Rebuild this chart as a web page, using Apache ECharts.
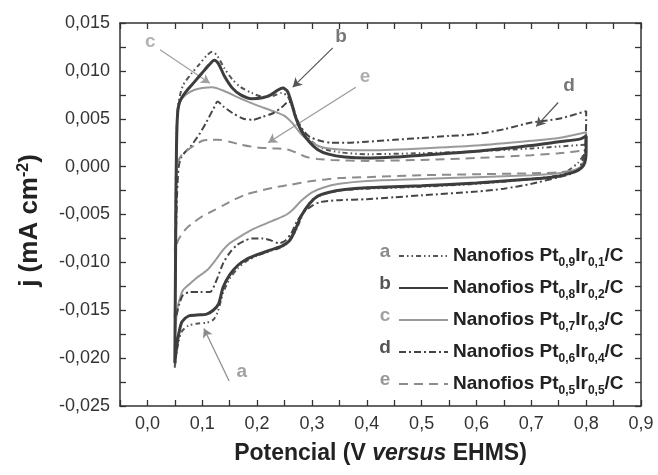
<!DOCTYPE html>
<html>
<head>
<meta charset="utf-8">
<script src="https://cdn.jsdelivr.net/npm/echarts@6/dist/echarts.min.js"></script>
<style>
html,body{margin:0;padding:0;background:#fff;}
#chart{width:658px;height:475px;}
</style>
</head>
<body>
<div id="chart"></div>
<script>
// ---- data (x: potential / V, y: j / mA cm-2), closed CV loops: anodic then cathodic ----
const curveA = [
  [0.05,-0.021],[0.051,-0.010],[0.052,0.0],[0.054,0.005],[0.057,0.0068],[0.065,0.0085],[0.08,0.0097],[0.095,0.0107],
  [0.108,0.0116],[0.118,0.0120],[0.127,0.0116],[0.14,0.0103],[0.155,0.0091],[0.17,0.0083],[0.19,0.0077],[0.21,0.0073],
  [0.23,0.0074],[0.245,0.0077],[0.255,0.0074],[0.263,0.0064],[0.272,0.0049],[0.285,0.0035],[0.3,0.0026],[0.32,0.0019],
  [0.35,0.0015],[0.4,0.0013],[0.5,0.0014],[0.6,0.0016],[0.7,0.0019],[0.75,0.0021],[0.8,0.0023],
  [0.8,0.0020],[0.795,0.0012],[0.785,0.0004],[0.77,-0.0003],[0.75,-0.0009],[0.7,-0.0013],[0.6,-0.0018],[0.5,-0.0021],
  [0.4,-0.0023],[0.35,-0.0025],[0.32,-0.0029],[0.3,-0.0035],[0.285,-0.0048],[0.272,-0.0065],[0.26,-0.0077],[0.245,-0.0084],
  [0.225,-0.0088],[0.2,-0.0093],[0.18,-0.0099],[0.165,-0.0106],[0.15,-0.0117],[0.138,-0.0132],[0.128,-0.0152],[0.12,-0.0160],
  [0.108,-0.0163],[0.09,-0.0164],[0.075,-0.0166],[0.063,-0.0172],[0.057,-0.0182],[0.053,-0.0195],[0.05,-0.021]
];
const curveB = [
  [0.05,-0.0205],[0.051,-0.012],[0.052,-0.004],[0.053,0.002],[0.055,0.0055],[0.059,0.0068],[0.07,0.0078],[0.085,0.0088],
  [0.1,0.0098],[0.112,0.0106],[0.122,0.0111],[0.13,0.0107],[0.14,0.0095],[0.155,0.0082],[0.17,0.0075],[0.19,0.0071],
  [0.21,0.0072],[0.225,0.0075],[0.238,0.0080],[0.247,0.0082],[0.255,0.0079],[0.262,0.0068],[0.27,0.0052],[0.28,0.0038],
  [0.295,0.0026],[0.31,0.0018],[0.33,0.0013],[0.36,0.0010],[0.4,0.0009],[0.45,0.0010],[0.5,0.0012],[0.55,0.0014],
  [0.6,0.0016],[0.65,0.0019],[0.7,0.0022],[0.75,0.0026],[0.79,0.0029],[0.8,0.0032],
  [0.8,0.0022],[0.799,0.0008],[0.795,0.0001],[0.785,-0.0004],[0.77,-0.0007],[0.75,-0.0010],[0.7,-0.0013],[0.6,-0.0017],
  [0.5,-0.0020],[0.45,-0.0021],[0.4,-0.0022],[0.36,-0.0024],[0.33,-0.0027],[0.31,-0.0031],[0.295,-0.0039],[0.28,-0.0052],
  [0.268,-0.0068],[0.258,-0.0078],[0.245,-0.0083],[0.225,-0.0087],[0.2,-0.0092],[0.18,-0.0097],[0.165,-0.0103],[0.15,-0.0113],
  [0.138,-0.0126],[0.13,-0.0143],[0.12,-0.0150],[0.108,-0.0154],[0.09,-0.0155],[0.075,-0.0156],[0.063,-0.0162],[0.057,-0.0175],
  [0.053,-0.0190],[0.05,-0.0205]
];
const curveC = [
  [0.05,-0.0175],[0.051,-0.010],[0.052,-0.002],[0.053,0.003],[0.055,0.0058],[0.06,0.0068],[0.07,0.0075],[0.085,0.0080],
  [0.1,0.0082],[0.118,0.0083],[0.14,0.0079],[0.17,0.0071],[0.2,0.0064],[0.229,0.0058],[0.25,0.0053],[0.265,0.0045],
  [0.28,0.0034],[0.3,0.0025],[0.32,0.0020],[0.35,0.0018],[0.4,0.0017],[0.5,0.0019],[0.6,0.0022],[0.7,0.0027],[0.75,0.0030],[0.8,0.0036],
  [0.8,0.0024],[0.797,0.0008],[0.79,0.0000],[0.775,-0.0004],[0.75,-0.0007],[0.7,-0.0009],[0.6,-0.0011],[0.5,-0.0013],
  [0.4,-0.0015],[0.35,-0.0018],[0.32,-0.0022],[0.3,-0.0027],[0.28,-0.0036],[0.265,-0.0045],[0.254,-0.0050],[0.235,-0.0055],
  [0.218,-0.0059],[0.19,-0.0066],[0.169,-0.0073],[0.15,-0.0080],[0.138,-0.0087],[0.125,-0.0097],[0.109,-0.0108],[0.09,-0.0116],
  [0.078,-0.0122],[0.065,-0.0129],[0.058,-0.0140],[0.054,-0.0150],[0.052,-0.0163],[0.05,-0.0175]
];
const curveD = [
  [0.05,-0.0158],[0.051,-0.011],[0.052,-0.007],[0.054,-0.003],[0.057,0.0],[0.062,0.0010],[0.07,0.0016],[0.08,0.0022],
  [0.096,0.0035],[0.108,0.0047],[0.12,0.0060],[0.128,0.0068],[0.138,0.0063],[0.155,0.0056],[0.175,0.0050],[0.193,0.0049],
  [0.21,0.0052],[0.23,0.0056],[0.245,0.0062],[0.258,0.0068],[0.265,0.0063],[0.273,0.0049],[0.285,0.0037],[0.296,0.0031],
  [0.315,0.0027],[0.335,0.0025],[0.37,0.0025],[0.4,0.0026],[0.45,0.0028],[0.5,0.0030],[0.55,0.0032],[0.6,0.0034],
  [0.65,0.0039],[0.7,0.0046],[0.75,0.0050],[0.8,0.0058],
  [0.8,0.0048],[0.798,0.0020],[0.793,0.0005],[0.785,-0.0003],[0.77,-0.0008],[0.75,-0.0011],[0.7,-0.0018],[0.65,-0.0023],
  [0.6,-0.0026],[0.5,-0.0030],[0.45,-0.0032],[0.4,-0.0034],[0.35,-0.0035],[0.315,-0.0037],[0.3,-0.0041],[0.284,-0.0048],
  [0.272,-0.0058],[0.262,-0.0070],[0.25,-0.0078],[0.24,-0.0080],[0.225,-0.0077],[0.21,-0.0075],[0.19,-0.0075],[0.175,-0.0078],
  [0.163,-0.0082],[0.15,-0.0090],[0.138,-0.0101],[0.125,-0.0120],[0.114,-0.0131],[0.096,-0.0131],[0.078,-0.0131],[0.065,-0.0134],
  [0.058,-0.0144],[0.053,-0.0155],[0.05,-0.0158]
];
const curveE = [
  [0.05,-0.009],[0.051,-0.005],[0.052,-0.002],[0.054,0.0],[0.058,0.0008],[0.065,0.0014],[0.075,0.0018],[0.085,0.0022],
  [0.1,0.0027],[0.115,0.0028],[0.13,0.0028],[0.15,0.0026],[0.17,0.0023],[0.2,0.0020],[0.23,0.0019],[0.255,0.0018],
  [0.27,0.0015],[0.29,0.0010],[0.31,0.0008],[0.335,0.0007],[0.4,0.0006],[0.5,0.0007],[0.6,0.0009],[0.7,0.0012],[0.75,0.0014],[0.8,0.0017],
  [0.8,0.0012],[0.797,0.0004],[0.79,-0.0001],[0.775,-0.0004],[0.75,-0.0006],[0.7,-0.0007],[0.6,-0.0008],[0.5,-0.0009],
  [0.4,-0.0011],[0.35,-0.0012],[0.3,-0.0015],[0.26,-0.0019],[0.229,-0.0022],[0.2,-0.0026],[0.18,-0.0029],[0.16,-0.0034],
  [0.14,-0.0040],[0.12,-0.0046],[0.1,-0.0052],[0.085,-0.0058],[0.072,-0.0064],[0.062,-0.0071],[0.056,-0.0077],[0.052,-0.0084],[0.05,-0.009]
];
const curveLetters = ['a','b','c','d','e'];
const ptSub = ['0,9','0,8','0,7','0,6','0,5'];
const irSub = ['0,1','0,2','0,3','0,4','0,5'];

// annotation letters with arrows (data coordinates)
const annLetters = ['c','b','e','d','a'];
const annTextPos = [[0.005,0.0130],[0.353,0.0136],[0.397,0.0094],[0.769,0.0084],[0.172,-0.0214]];
const annArrowFrom = [[0.023,0.0122],[0.338,0.0124],[0.380,0.0083],[0.749,0.0067],[0.149,-0.0224]];
const annArrowTo = [[0.114,0.0087],[0.265,0.0083],[0.220,0.0025],[0.709,0.0042],[0.103,-0.0169]];

// ---- styles ----
const FONT = 'Liberation Sans, Arial, Helvetica, sans-serif';
const letterColor = {a:'#8a8a8a', b:'#555555', c:'#a0a0a0', d:'#555555', e:'#999999'};
const curveStyles = [
  {color:'#555555', width:2, type:[5,3,1.5,3,1.5,3]},
  {color:'#3d3d3d', width:3, type:'solid'},
  {color:'#9a9a9a', width:2, type:'solid'},
  {color:'#454545', width:2, type:[7,3,2,3]},
  {color:'#8c8c8c', width:2, type:[9,6]}
];
const curves = [curveA, curveB, curveC, curveD, curveE];
const names = curveLetters.map((l,i)=>'Nanofios Pt' + ptSub[i] + 'Ir' + irSub[i] + '/C');

const chart = echarts.init(document.getElementById('chart'));

const series = curves.map((c,i)=>({
  name: names[i],
  type: 'line',
  data: c,
  symbol: 'none',
  smooth: 0.25,
  lineStyle: curveStyles[i],
  itemStyle: {color: curveStyles[i].color},
  animation: false,
  xAxisIndex: 0, yAxisIndex: 0,
  z: i === 1 ? 5 : 3
}));

series.push({
  name: 'annotations',
  type: 'scatter',
  symbol: 'circle',
  symbolSize: 1,
  itemStyle: {color: 'rgba(0,0,0,0)'},
  animation: false,
  silent: true,
  data: annTextPos.map((p,i)=>({
    value: p, name: annLetters[i],
    label: {show:true, position:'inside', formatter:'{b}', color: letterColor[annLetters[i]],
            fontFamily: FONT, fontWeight:'bold', fontSize: 19}
  })),
  markLine: {
    silent: true,
    animation: false,
    symbol: ['none','arrow'],
    symbolSize: [8,9],
    label: {show:false},
    data: annArrowFrom.map((p,i)=>[
      {coord: p, lineStyle:{color: letterColor[annLetters[i]], width:1.2, type:'solid'}},
      {coord: annArrowTo[i]}
    ])
  }
});

const xFmt = v => { const k = Math.round(v*100); return (k % 10 === 0) ? (k/100).toFixed(1).replace('.', ',') : ''; };
const yFmt = v => { const k = Math.round(v*10000); return (k % 50 === 0) ? (k/10000).toFixed(3).replace('.', ',') : ''; };

const axisCommon = {
  axisLine: {show:true, onZero:false, lineStyle:{color:'#333', width:1.5}},
  axisTick: {show:true, inside:true, length:6, lineStyle:{color:'#333', width:1.3}},
  splitLine: {show:false}
};

chart.setOption({
  animation: false,
  backgroundColor: '#fff',
  grid: {left:120, right:17, top:23, bottom:69},
  xAxis: [
    Object.assign({
      type:'value', min:-0.05, max:0.9, interval:0.05, position:'bottom',
      axisLabel:{formatter:xFmt, color:'#333', fontFamily:FONT, fontSize:18, margin:9},
      name:'{b|Potencial (V }{i|versus}{b| EHMS)}',
      nameLocation:'middle', nameGap:36,
      nameTextStyle:{rich:{
        b:{fontFamily:FONT, fontWeight:'bold', fontSize:23, color:'#222'},
        i:{fontFamily:FONT, fontWeight:'bold', fontStyle:'italic', fontSize:23, color:'#222'}
      }}
    }, axisCommon),
    Object.assign({
      type:'value', min:-0.05, max:0.9, interval:0.05, position:'top',
      axisLabel:{show:false}
    }, axisCommon)
  ],
  yAxis: [
    Object.assign({
      type:'value', min:-0.025, max:0.015, interval:0.0025, position:'left',
      axisLabel:{formatter:yFmt, color:'#333', fontFamily:FONT, fontSize:18, margin:10},
      name:'{b|j (mA cm}{s|-2}{b|)}',
      nameLocation:'middle', nameGap:76, nameRotate:90,
      nameTextStyle:{padding:[0,12,0,0], rich:{
        b:{fontFamily:FONT, fontWeight:'bold', fontSize:26, color:'#222', lineHeight:28},
        s:{fontFamily:FONT, fontWeight:'bold', fontSize:16, color:'#222', lineHeight:16, padding:[0,0,12,0]}
      }}
    }, axisCommon),
    Object.assign({
      type:'value', min:-0.025, max:0.015, interval:0.0025, position:'right',
      axisLabel:{show:false}
    }, axisCommon)
  ],
  legend: {
    data: names,
    orient: 'vertical',
    left: 393, top: 238,
    itemWidth: 49, itemHeight: 14, itemGap: 6,
    selectedMode: false,
    itemStyle: {opacity: 0},
    formatter: name => {
      const i = names.indexOf(name);
      return '{t|Nanofios Pt}{s|' + ptSub[i] + '}{t|Ir}{s|' + irSub[i] + '}{t|/C}';
    },
    textStyle: {
      rich: {
        t:{fontFamily:FONT, fontWeight:'bold', fontSize:19, color:'#222', lineHeight:26},
        s:{fontFamily:FONT, fontWeight:'bold', fontSize:12, color:'#222', lineHeight:12, padding:[14,0,0,0]}
      }
    }
  },
  graphic: curveLetters.map((l,i)=>({
    type:'text',
    x: 385, y: 252 + i*32,
    silent: true,
    style:{text:l, font:'bold 19px ' + FONT, fill: letterColor[l],
           textAlign:'center', textVerticalAlign:'middle', align:'center', verticalAlign:'middle'}
  })),
  series: series
});
</script>
</body>
</html>
